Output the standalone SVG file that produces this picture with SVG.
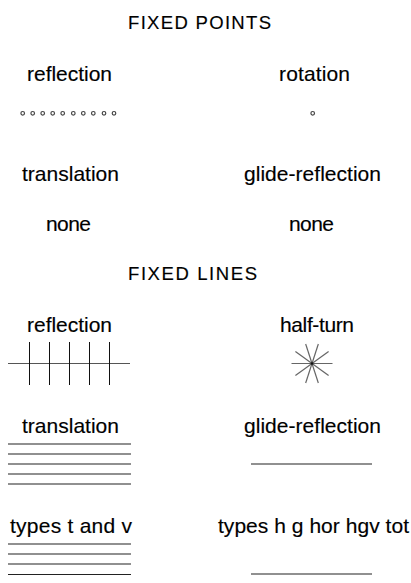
<svg xmlns="http://www.w3.org/2000/svg" width="411" height="583" viewBox="0 0 411 583">
  <style>
    text { font-family: "Liberation Sans", Arial, sans-serif; fill: #000; stroke: #000; stroke-width: 0.15; }
    .head { font-size: 18.5px; }
    .lbl { font-size: 21px; }
    .dot { fill: none; stroke: #444; stroke-width: 1.2; }
    .axis { stroke: #555; stroke-width: 1.2; }
    .tick { stroke: #111; stroke-width: 1; }
    .spoke { stroke: #666; stroke-width: 1.2; }
    .fix { stroke: #222; stroke-width: 1.2; }
  </style>
  <rect width="411" height="583" fill="#fff"/>

  <!-- Fixed points section -->
  <g id="heading-points">
    <text class="head" x="128" y="29" textLength="143" lengthAdjust="spacing">FIXED POINTS</text>
  </g>

  <g id="pt-reflection">
    <text class="lbl" x="27" y="81" textLength="85" lengthAdjust="spacing">reflection</text>
    <g>
      <circle class="dot" cx="22.7" cy="113.3" r="1.8"/>
      <circle class="dot" cx="32.7" cy="113.3" r="1.8"/>
      <circle class="dot" cx="42.7" cy="113.3" r="1.8"/>
      <circle class="dot" cx="52.7" cy="113.3" r="1.8"/>
      <circle class="dot" cx="62.7" cy="113.3" r="1.8"/>
      <circle class="dot" cx="73.3" cy="113.3" r="1.8"/>
      <circle class="dot" cx="83.3" cy="113.3" r="1.8"/>
      <circle class="dot" cx="93.3" cy="113.3" r="1.8"/>
      <circle class="dot" cx="104" cy="113.3" r="1.8"/>
      <circle class="dot" cx="114" cy="113.3" r="1.8"/>
    </g>
  </g>

  <g id="pt-rotation">
    <text class="lbl" x="279" y="81" textLength="71" lengthAdjust="spacing">rotation</text>
    <circle class="dot" cx="312.7" cy="113.3" r="1.8"/>
  </g>

  <g id="pt-translation">
    <text class="lbl" x="22" y="181" textLength="97" lengthAdjust="spacing">translation</text>
    <text class="lbl" x="46" y="231" textLength="45" lengthAdjust="spacing">none</text>
  </g>

  <g id="pt-glide">
    <text class="lbl" x="244" y="181" textLength="137" lengthAdjust="spacing">glide-reflection</text>
    <text class="lbl" x="289" y="231" textLength="45" lengthAdjust="spacing">none</text>
  </g>

  <!-- Fixed lines section -->
  <g id="heading-lines">
    <text class="head" x="128" y="280" textLength="129" lengthAdjust="spacing">FIXED LINES</text>
  </g>

  <g id="ln-reflection">
    <text class="lbl" x="27" y="332" textLength="85" lengthAdjust="spacing">reflection</text>
    <line class="axis" x1="8" y1="363.5" x2="130" y2="363.5"/>
    <line class="tick" x1="29.5" y1="342" x2="29.5" y2="385"/>
    <line class="tick" x1="49.5" y1="342" x2="49.5" y2="385"/>
    <line class="tick" x1="69.5" y1="342" x2="69.5" y2="385"/>
    <line class="tick" x1="89.5" y1="342" x2="89.5" y2="385"/>
    <line class="tick" x1="109.5" y1="342" x2="109.5" y2="385"/>
  </g>

  <g id="ln-halfturn">
    <text class="lbl" x="280" y="332" textLength="74" lengthAdjust="spacing">half-turn</text>
    <g transform="translate(312 363.5)">
      <line class="spoke" x1="-20.5" y1="0" x2="20.5" y2="0"/>
      <line class="spoke" x1="-20.5" y1="0" x2="20.5" y2="0" transform="rotate(36)"/>
      <line class="spoke" x1="-20.5" y1="0" x2="20.5" y2="0" transform="rotate(72)"/>
      <line class="spoke" x1="-20.5" y1="0" x2="20.5" y2="0" transform="rotate(108)"/>
      <line class="spoke" x1="-20.5" y1="0" x2="20.5" y2="0" transform="rotate(144)"/>
      <circle r="1.3" fill="#111"/>
    </g>
  </g>

  <g id="ln-translation">
    <text class="lbl" x="22" y="433" textLength="97" lengthAdjust="spacing">translation</text>
    <line class="fix" x1="8" y1="444" x2="131" y2="444"/>
    <line class="fix" x1="8" y1="454" x2="131" y2="454"/>
    <line class="fix" x1="8" y1="464" x2="131" y2="464"/>
    <line class="fix" x1="8" y1="474" x2="131" y2="474"/>
    <line class="fix" x1="8" y1="484" x2="131" y2="484"/>
  </g>

  <g id="ln-glide">
    <text class="lbl" x="244" y="433" textLength="137" lengthAdjust="spacing">glide-reflection</text>
    <line class="fix" x1="251" y1="464" x2="372" y2="464"/>
  </g>

  <g id="ln-types-tv">
    <text class="lbl" x="10" y="533" textLength="122" lengthAdjust="spacing">types t and v</text>
    <line class="fix" x1="8" y1="544" x2="131" y2="544"/>
    <line class="fix" x1="8" y1="554" x2="131" y2="554"/>
    <line class="fix" x1="8" y1="564" x2="131" y2="564"/>
    <line class="fix" x1="8" y1="574.5" x2="131" y2="574.5"/>
  </g>

  <g id="ln-types-hg">
    <text class="lbl" x="218" y="533" textLength="191" lengthAdjust="spacing">types h g hor hgv tot</text>
    <line class="fix" x1="251" y1="574" x2="372" y2="574"/>
  </g>
</svg>
